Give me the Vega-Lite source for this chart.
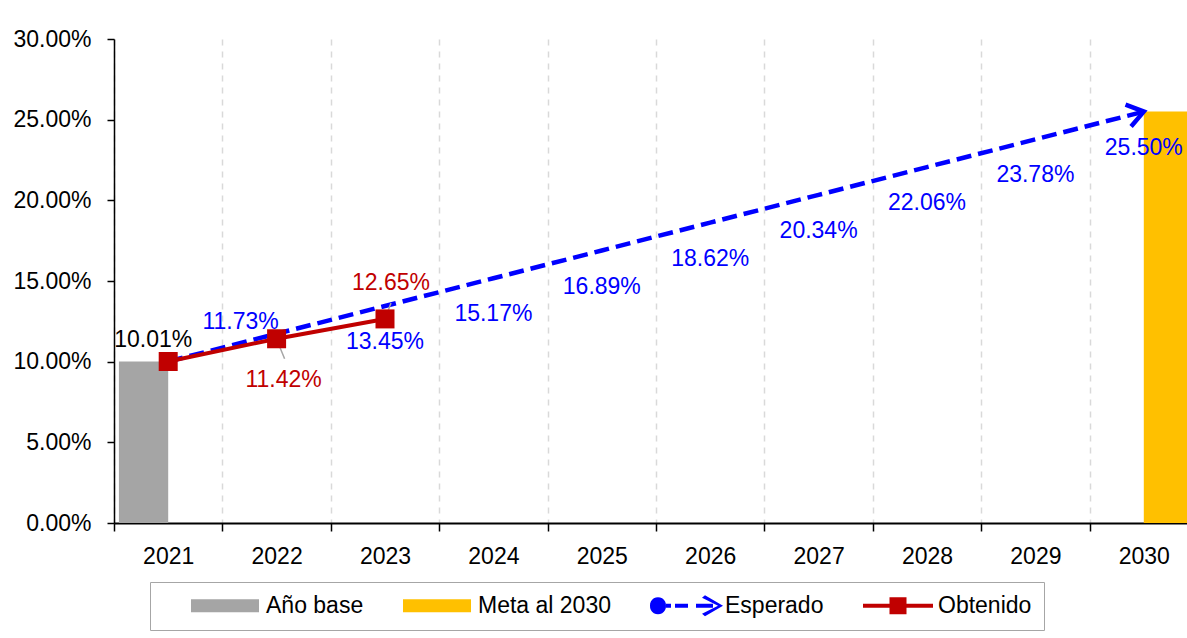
{
  "$schema": "https://vega.github.io/schema/vega-lite/v6.json",
  "width": 1073,
  "height": 484,
  "autosize": {"type": "none"},
  "padding": {"left": 114, "top": 39, "right": 0, "bottom": 115},
  "background": "white",
  "config": {
    "view": {"stroke": null},
    "font": "Liberation Sans",
    "text": {"font": "Liberation Sans"}
  },
  "data": {
    "values": [
      {"year": "2021", "serie": "Año base", "value": 0.1001},
      {"year": "2030", "serie": "Meta al 2030", "value": 0.255},
      {"year": "2021", "serie": "Esperado", "value": 0.1001},
      {"year": "2022", "serie": "Esperado", "value": 0.1173},
      {"year": "2023", "serie": "Esperado", "value": 0.1345},
      {"year": "2024", "serie": "Esperado", "value": 0.1517},
      {"year": "2025", "serie": "Esperado", "value": 0.1689},
      {"year": "2026", "serie": "Esperado", "value": 0.1862},
      {"year": "2027", "serie": "Esperado", "value": 0.2034},
      {"year": "2028", "serie": "Esperado", "value": 0.2206},
      {"year": "2029", "serie": "Esperado", "value": 0.2378},
      {"year": "2030", "serie": "Esperado", "value": 0.255},
      {"year": "2021", "serie": "Obtenido", "value": 0.1001},
      {"year": "2022", "serie": "Obtenido", "value": 0.1142},
      {"year": "2023", "serie": "Obtenido", "value": 0.1265}
    ]
  },
  "encoding": {
    "x": {
      "field": "year",
      "type": "ordinal",
      "scale": {
        "domain": ["2021", "2022", "2023", "2024", "2025", "2026", "2027", "2028", "2029", "2030"],
        "range": [0, 1084],
        "paddingInner": 0,
        "paddingOuter": 0
      },
      "axis": {
        "title": null,
        "tickBand": "extent",
        "grid": true,
        "gridDash": [6, 6],
        "gridColor": "#D9D9D9",
        "gridWidth": 1.5,
        "domainColor": "#000000",
        "domainWidth": 2,
        "tickColor": "#000000",
        "tickSize": 8,
        "tickWidth": 1.5,
        "labelAngle": 0,
        "labelFont": "Liberation Sans",
        "labelFontSize": 23,
        "labelColor": "#000000",
        "labelPadding": 14
      }
    },
    "y": {
      "field": "value",
      "type": "quantitative",
      "scale": {"domain": [0, 0.3], "nice": false, "zero": true},
      "axis": {
        "title": null,
        "values": [0, 0.05, 0.1, 0.15, 0.2, 0.25, 0.3],
        "format": ".2%",
        "grid": false,
        "domainColor": "#000000",
        "domainWidth": 1.5,
        "tickColor": "#000000",
        "tickSize": 7,
        "tickWidth": 1.5,
        "labelFont": "Liberation Sans",
        "labelFontSize": 23,
        "labelColor": "#000000",
        "labelPadding": 16
      }
    }
  },
  "layer": [
    {
      "transform": [{"filter": "datum.serie === 'Año base' || datum.serie === 'Meta al 2030'"}],
      "mark": {"type": "bar"},
      "encoding": {
        "xOffset": {
          "field": "serie",
          "scale": {"domain": ["Año base", "Meta al 2030"], "paddingInner": 0, "paddingOuter": 0.1}
        },
        "fill": {
          "field": "serie",
          "type": "nominal",
          "scale": {"domain": ["Año base", "Meta al 2030"], "range": ["#A5A5A5", "#FFC000"]},
          "legend": null
        }
      }
    },
    {
      "mark": {"type": "point", "filled": true, "opacity": 0},
      "encoding": {
        "color": {
          "field": "serie",
          "type": "nominal",
          "scale": {
            "domain": ["Año base", "Meta al 2030", "Esperado", "Obtenido"],
            "range": ["#A5A5A5", "#FFC000", "#0000FF", "#C00000"]
          },
          "legend": {
            "title": null,
            "orient": "none",
            "legendX": 36,
            "legendY": 543,
            "direction": "horizontal",
            "symbolSize": 49,
            "symbolOffset": 21,
            "symbolOpacity": 1,
            "symbolStrokeWidth": 0,
            "labelFont": "Liberation Sans",
            "labelFontSize": 23,
            "labelColor": "#000000",
            "labelOffset": 60,
            "columnPadding": 10,
            "padding": 12,
            "strokeColor": "#A6A6A6",
            "fillColor": "#FFFFFF",
            "encode": {"symbols": {"update": {"opacity": {"value": 1}}}}
          }
        },
        "shape": {
          "field": "serie",
          "type": "nominal",
          "scale": {
            "domain": ["Año base", "Meta al 2030", "Esperado", "Obtenido"],
            "range": [
              "M-1,-1.86H18.43V1.86H-1Z",
              "M-1,-1.86H18.43V1.86H-1Z",
              "M-1,0A2.29,2.29 0 1 0 3.57,0A2.29,2.29 0 1 0 -1,0ZM3.57,-0.6H5V0.6H3.57ZM6.14,-0.6H9.86V0.6H6.14ZM12.14,-0.6H17V0.6H12.14ZM13.86,-2.29L14.71,-3L19.86,0L14.71,3L13.86,2.29L18.43,0Z",
              "M-1,-0.6H19V0.6H-1ZM6.57,-2.43H11.43V2.43H6.57Z"
            ]
          },
          "legend": {
            "title": null,
            "orient": "none",
            "legendX": 36,
            "legendY": 543,
            "direction": "horizontal",
            "symbolSize": 49,
            "symbolOffset": 21,
            "symbolOpacity": 1,
            "symbolStrokeWidth": 0,
            "labelFont": "Liberation Sans",
            "labelFontSize": 23,
            "labelColor": "#000000",
            "labelOffset": 60,
            "columnPadding": 10,
            "padding": 12,
            "strokeColor": "#A6A6A6",
            "fillColor": "#FFFFFF",
            "encode": {"symbols": {"update": {"opacity": {"value": 1}}}}
          }
        }
      }
    },
    {
      "transform": [{"filter": "datum.serie === 'Esperado'"}],
      "mark": {"type": "line", "color": "#0000FF", "strokeWidth": 4.5, "strokeDash": [15, 7]}
    },
    {
      "transform": [{"filter": "datum.serie === 'Esperado' && datum.year === '2021'"}],
      "mark": {"type": "point", "shape": "circle", "size": 200, "filled": true, "color": "#0000FF", "opacity": 1}
    },
    {
      "transform": [{"filter": "datum.serie === 'Esperado' && datum.year === '2030'"}],
      "mark": {
        "type": "point",
        "shape": "M-1,-0.7L0,0L-1,0.7",
        "size": 1024,
        "filled": false,
        "color": "#0000FF",
        "stroke": "#0000FF",
        "strokeWidth": 4.5,
        "angle": -14.4,
        "opacity": 1,
        "strokeJoin": "miter",
        "strokeCap": "butt"
      }
    },
    {
      "transform": [{"filter": "datum.serie === 'Obtenido' && datum.year === '2022'"}],
      "mark": {"type": "rule", "color": "#A6A6A6", "strokeWidth": 1.5, "xOffset": 1, "yOffset": 3, "x2Offset": 8, "y2Offset": 20},
      "encoding": {
        "x": {"field": "year", "type": "ordinal", "bandPosition": 0.5},
        "x2": {"field": "year", "bandPosition": 0.5},
        "y2": {"field": "value"}
      }
    },
    {
      "transform": [{"filter": "datum.serie === 'Obtenido' && datum.year === '2023'"}],
      "mark": {"type": "rule", "color": "#A6A6A6", "strokeWidth": 1.5, "xOffset": 0, "yOffset": 0, "x2Offset": 6, "y2Offset": -16},
      "encoding": {
        "x": {"field": "year", "type": "ordinal", "bandPosition": 0.5},
        "x2": {"field": "year", "bandPosition": 0.5},
        "y2": {"field": "value"}
      }
    },
    {
      "transform": [{"filter": "datum.serie === 'Obtenido'"}],
      "mark": {
        "type": "line",
        "color": "#C00000",
        "strokeWidth": 4,
        "point": {"shape": "square", "size": 361, "filled": true, "color": "#C00000", "opacity": 1}
      }
    },
    {
      "transform": [{"filter": "datum.serie === 'Esperado' && datum.year === '2022'"}],
      "mark": {"type": "text", "font": "Liberation Sans", "fontSize": 23, "color": "#0000FF", "align": "center", "baseline": "middle", "dx": -36, "dy": -12},
      "encoding": {"text": {"field": "value", "type": "quantitative", "format": ".2%"}}
    },
    {
      "transform": [{"filter": "datum.serie === 'Esperado' && datum.year !== '2021' && datum.year !== '2022'"}],
      "mark": {"type": "text", "font": "Liberation Sans", "fontSize": 23, "color": "#0000FF", "align": "center", "baseline": "middle", "dx": 0, "dy": 36},
      "encoding": {"text": {"field": "value", "type": "quantitative", "format": ".2%"}}
    },
    {
      "transform": [{"filter": "datum.serie === 'Obtenido' && datum.year === '2022'"}],
      "mark": {"type": "text", "font": "Liberation Sans", "fontSize": 23, "color": "#C00000", "align": "center", "baseline": "middle", "dx": 7, "dy": 41},
      "encoding": {"text": {"field": "value", "type": "quantitative", "format": ".2%"}}
    },
    {
      "transform": [{"filter": "datum.serie === 'Obtenido' && datum.year === '2023'"}],
      "mark": {"type": "text", "font": "Liberation Sans", "fontSize": 23, "color": "#C00000", "align": "center", "baseline": "middle", "dx": 6, "dy": -36},
      "encoding": {"text": {"field": "value", "type": "quantitative", "format": ".2%"}}
    },
    {
      "transform": [{"filter": "datum.serie === 'Año base'"}],
      "mark": {"type": "text", "font": "Liberation Sans", "fontSize": 23, "color": "#000000", "align": "center", "baseline": "middle", "dx": -15, "dy": -22},
      "encoding": {"text": {"field": "value", "type": "quantitative", "format": ".2%"}}
    }
  ]
}
